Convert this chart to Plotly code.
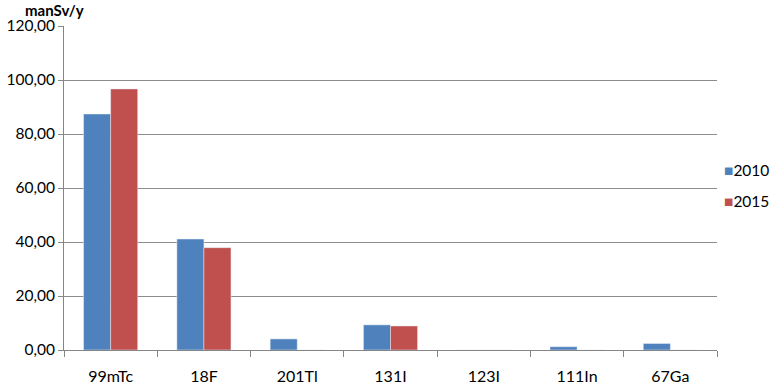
import plotly.graph_objects as go

categories = ["99mTc", "18F", "201Tl", "131I", "123I", "111In", "67Ga"]
values_2010 = [87.4, 41.1, 4.1, 9.3, 0.0, 1.2, 2.4]
values_2015 = [96.7, 37.9, 0.0, 8.9, 0.0, 0.0, 0.0]
y_ticks = [0, 20, 40, 60, 80, 100, 120]
series_names = ["2010", "2015"]
series_colors = ["#4f81bd", "#c0504d"]

font_family = "Lato, 'Open Sans', sans-serif"

fig = go.Figure()
fig.add_trace(go.Bar(name=series_names[0], x=categories, y=values_2010, marker_color=series_colors[0]))
fig.add_trace(go.Bar(name=series_names[1], x=categories, y=values_2015, marker_color=series_colors[1]))

fig.update_layout(
    width=771, height=385,
    margin=dict(l=64, r=54, t=26, b=35, autoexpand=False),
    paper_bgcolor="white", plot_bgcolor="white",
    barmode="group", bargap=0.42, bargroupgap=0,
    separators=", ",
    font=dict(family=font_family, size=16, color="#000000"),
    showlegend=False,
)

fig.add_annotation(text="<b>manSv/y</b>", x=-0.063, y=1.049, xref="paper", yref="paper",
                   showarrow=False, xanchor="left", yanchor="middle", font=dict(size=15))
for name, color, ypos in zip(series_names, series_colors, [0.5556, 0.4599]):
    fig.add_annotation(
        text=f"<span style='color:{color}'>■</span>{name}",
        x=1.007, y=ypos, xref="paper", yref="paper", showarrow=False,
        xanchor="left", yanchor="middle", font=dict(size=15.5),
    )

fig.update_xaxes(
    type="category", tickson="boundaries", ticks="outside", ticklen=6,
    tickcolor="#868686", showline=True, linecolor="#868686", linewidth=1,
    showgrid=False, ticklabelstandoff=12, tickfont=dict(size=16),
)
fig.update_yaxes(
    range=[0, 120], tickvals=y_ticks, tickformat=".2f",
    showgrid=True, gridcolor="#8c8c8c", gridwidth=1,
    showline=True, linecolor="#868686", linewidth=1,
    ticks="outside", ticklen=5, tickcolor="#868686",
    zeroline=False, tickfont=dict(size=15.5),
)

fig.write_html("out.html", config={"displayModeBar": False},
               post_script="document.body.style.margin='0';document.body.style.overflow='hidden';")
